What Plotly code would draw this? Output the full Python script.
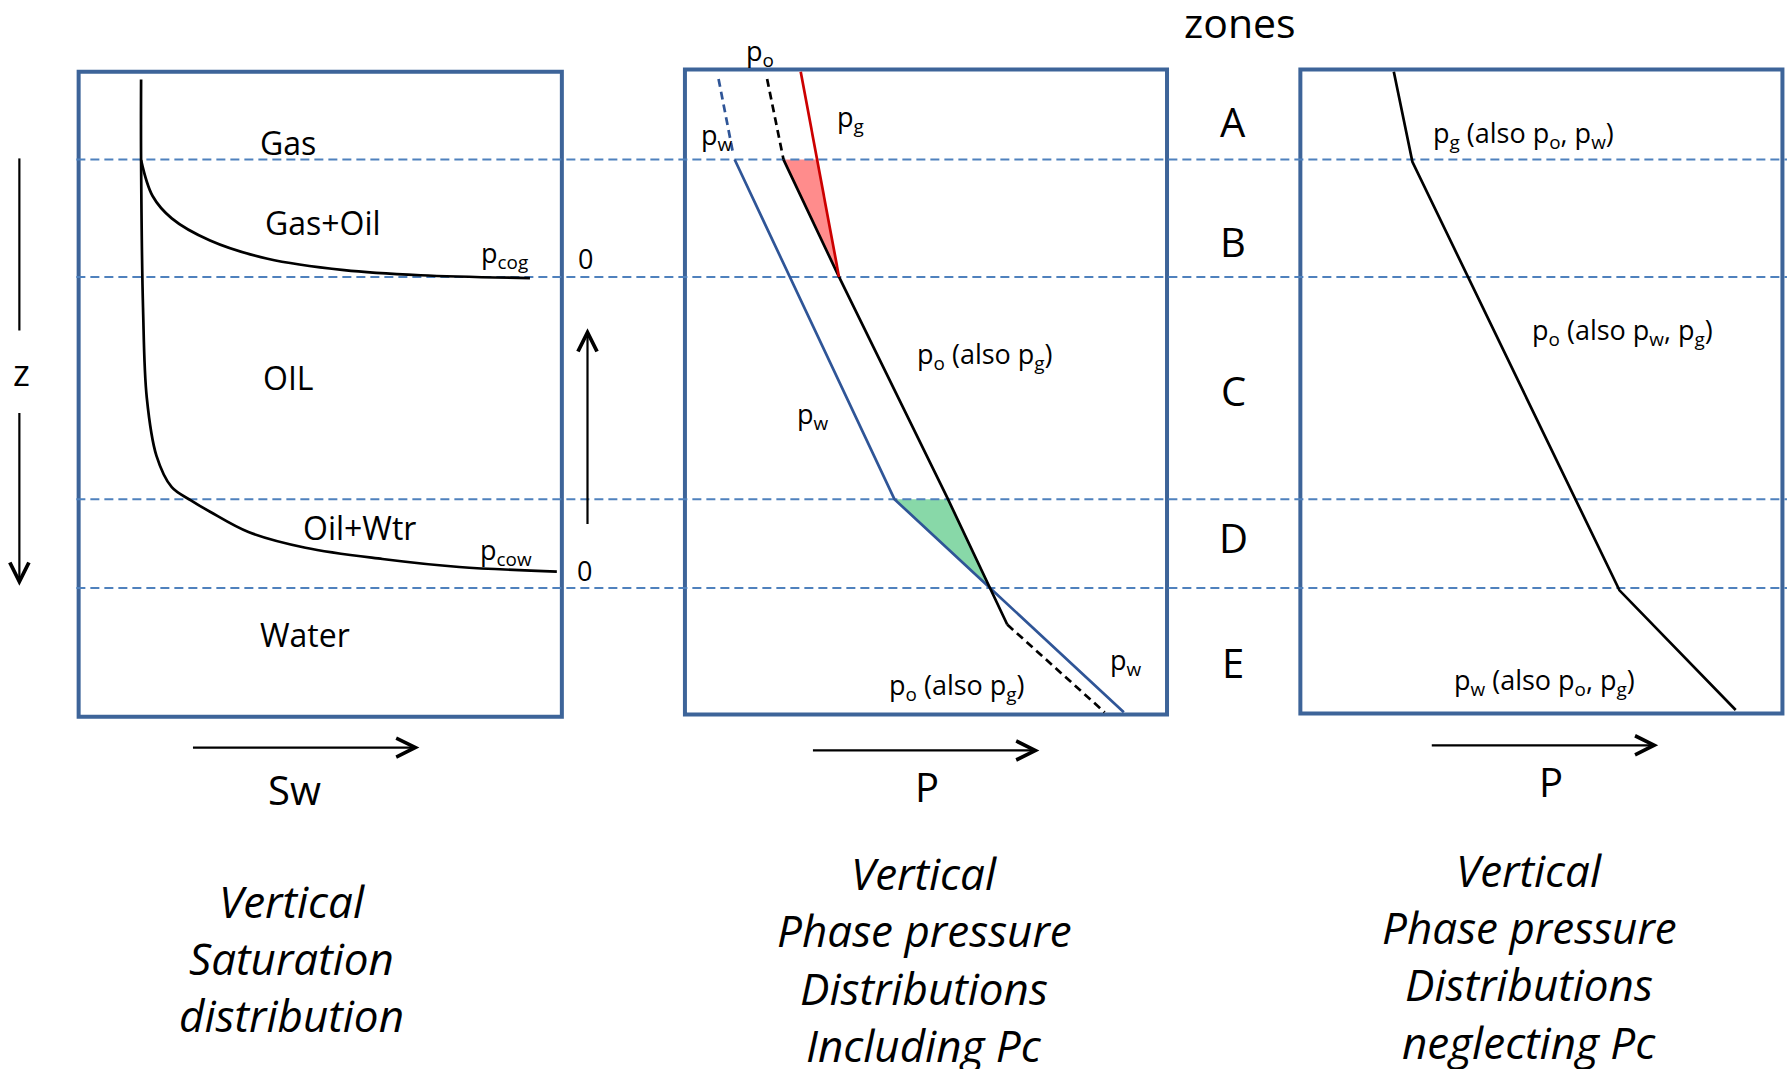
import plotly.graph_objects as go

# ---------------- data (diagram units: x to the right, depth downward) ----------------
zone_names = ["A", "B", "C", "D", "E"]
zone_label_depth = [107, 212, 343, 472, 581]
zone_boundary_depth = [140, 243, 438, 516]

# Left panel: saturation curves
sw_cow_x = [123.8, 123.8, 125.5, 128.8, 137.3, 150.7, 167.5, 184.3, 218, 268, 335.6, 402.9, 488.6]
sw_cow_z = [69.7, 140.5, 270, 349, 400, 427.5, 439, 449, 466.8, 480.6, 490.5, 497.5, 501.5]
sw_cog_x = [123.8, 133.9, 150.7, 184.3, 234.8, 302, 369, 465]
sw_cog_z = [140.5, 172, 191.6, 211, 227, 237, 241.5, 244]

# Middle panel: phase pressures including Pc
pw_dash_p = [630.5, 643.5]
pw_dash_z = [69.3, 136]
pw_p = [644.6, 784.8, 868.7, 986.1]
pw_z = [140, 438, 516, 625]
po_dash_top_p = [673.1, 687.5]
po_dash_top_z = [69.3, 140]
po_p = [687.5, 736.2, 831.8, 868.7, 883.8]
po_z = [140, 243, 438, 516, 548]
po_dash_bot_p = [883.8, 969.3]
po_dash_bot_z = [548, 625]
pg_p = [702.6, 736.2]
pg_z = [63, 243]
gascap_p = [687.5, 716.7, 736.2]
gascap_z = [140, 140, 243]
transition_p = [784.8, 831.8, 868.7]
transition_z = [438, 438, 516]

# Right panel: phase pressures neglecting Pc
pn_p = [1223, 1239.3, 1421, 1523]
pn_z = [63, 142, 518, 623]

# panel frames [x0, x1, z0, z1]
frame_left = [69, 493, 63, 629]
frame_mid = [601, 1024, 61, 627]
frame_right = [1141, 1564, 61, 626]

FONT = "Open Sans"
BOX = "#3d6499"
DASHBLUE = "#4f81bd"
PWBLUE = "#2f5597"

W, H = 1787, 1069

fig = go.Figure()

def line(x, y, color="black", width=2.7, dash="solid", shape="linear"):
    fig.add_trace(go.Scatter(x=x, y=y, mode="lines", hoverinfo="skip",
                             line=dict(color=color, width=width, dash=dash, shape=shape, smoothing=1.0)))

def fill(x, y, color):
    fig.add_trace(go.Scatter(x=x + [x[0]], y=y + [y[0]], mode="lines", fill="toself",
                             fillcolor=color, line=dict(width=0), hoverinfo="skip"))

# frames
for fr in (frame_left, frame_mid, frame_right):
    fig.add_shape(type="rect", x0=fr[0], x1=fr[1], y0=fr[2], y1=fr[3], xref="x", yref="y",
                  line=dict(color=BOX, width=4), layer="below")

# fills
fill(gascap_p, gascap_z, "rgb(255,140,140)")
fill(transition_p, transition_z, "rgb(136,216,168)")

# zone boundary dashed lines
for zb in zone_boundary_depth:
    line([67, 1568], [zb, zb], color=DASHBLUE, width=2, dash="9px,5px")

# left curves
line(sw_cow_x, sw_cow_z, shape="spline")
line(sw_cog_x, sw_cog_z, shape="spline")

# middle lines
line(pw_dash_p, pw_dash_z, color=PWBLUE, dash="8px,5px")
line(pw_p, pw_z, color=PWBLUE)
line(po_dash_top_p, po_dash_top_z, dash="8px,5px")
line(po_p, po_z)
line(po_dash_bot_p, po_dash_bot_z, dash="8px,5px")
line(pg_p, pg_z, color="#cc0000")

# right line
line(pn_p, pn_z)

def text(x, y, s, size, **kw):
    fig.add_annotation(x=x, y=y, text=s, showarrow=False, xref="x", yref="y",
                       xanchor="center", yanchor="middle",
                       font=dict(family=FONT, size=size, color="black"), **kw)

def arrow(x0, y0, x1, y1):
    fig.add_annotation(x=x1, y=y1, ax=x0, ay=y0, xref="x", yref="y", axref="x", ayref="y",
                       text="", showarrow=True, arrowhead=5, arrowsize=1.7, arrowwidth=2.2,
                       arrowcolor="black", standoff=0, startstandoff=0)

# zone labels
text(1088, 19, "zones", 41)
for name, zd in zip(zone_names, zone_label_depth):
    text(1082, zd, name, 40)

# left panel labels
text(253, 125, "Gas", 32)
text(283, 195, "Gas+Oil", 32)
text(253, 331, "OIL", 32)
text(315, 463, "Oil+Wtr", 32)
text(268, 557, "Water", 32)
text(443, 223, "p<sub>cog</sub>", 27)
text(514, 227, "0", 27)
text(444, 484, "p<sub>cow</sub>", 27)
text(513, 501, "0", 27)

# middle panel labels
text(667, 46, "p<sub>o</sub>", 27)
text(746, 104, "p<sub>g</sub>", 27)
text(629, 120, "p<sub>w</sub>", 27)
text(864, 312, "p<sub>o</sub> (also p<sub>g</sub>)", 27)
text(713, 365, "p<sub>w</sub>", 27)
text(988, 580, "p<sub>w</sub>", 27)
text(840, 602, "p<sub>o</sub> (also p<sub>g</sub>)", 27)

# right panel labels
text(1337, 118, "p<sub>g</sub> (also p<sub>o</sub>, p<sub>w</sub>)", 27)
text(1424, 291, "p<sub>o</sub> (also p<sub>w</sub>, p<sub>g</sub>)", 27)
text(1355, 598, "p<sub>w</sub> (also p<sub>o</sub>, p<sub>g</sub>)", 27)

# depth arrow (z)
line([17, 17], [139, 290], width=2.2)
text(19, 327, "z", 36)
arrow(17, 361, 17, 514)
# up arrow between panels
arrow(515.5, 461, 515.5, 288)

# axis arrows and labels
arrow(168, 656, 368, 656)
arrow(712, 658.5, 912, 658.5)
arrow(1255, 654, 1455, 654)
text(258, 693, "Sw", 40)
text(813, 690, "P", 40)
text(1361, 686, "P", 40)

# captions
for i, s in enumerate(["Vertical", "Saturation", "distribution"]):
    text(256, 791 + 50 * i, "<i>" + s + "</i>", 44)
for i, s in enumerate(["Vertical", "Phase pressure", "Distributions", "Including Pc"]):
    text(811, 766 + 50.3 * i, "<i>" + s + "</i>", 44)
for i, s in enumerate(["Vertical", "Phase pressure", "Distributions", "neglecting Pc"]):
    text(1342, 763 + 50.3 * i, "<i>" + s + "</i>", 44)

fig.update_layout(
    width=W, height=H, margin=dict(l=0, r=0, t=0, b=0),
    paper_bgcolor="white", plot_bgcolor="white", showlegend=False,
    xaxis=dict(range=[0, 1568], visible=False, fixedrange=True),
    yaxis=dict(range=[938, 0], visible=False, fixedrange=True),
)

fig.write_html(
    "out.html",
    config={"displayModeBar": False},
    post_script="document.body.style.margin='0';document.body.style.overflow='hidden';",
)
